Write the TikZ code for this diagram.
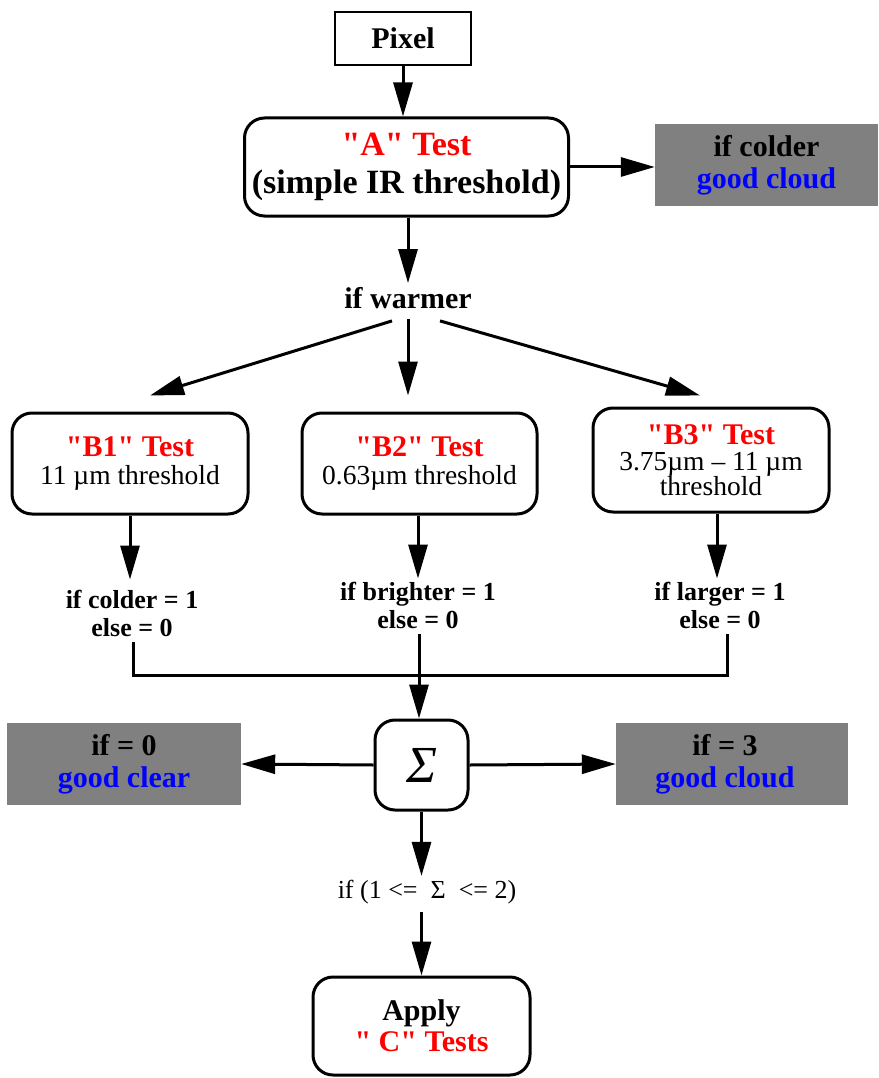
\documentclass[tikz,border=0pt]{standalone}
\usepackage{fontspec}
\newfontfamily\myserif{Liberation Serif}
\usetikzlibrary{arrows.meta}
\definecolor{boxgray}{RGB}{128,128,128}
\definecolor{tred}{RGB}{255,0,0}
\definecolor{tblue}{RGB}{0,0,255}
\newcommand{\fsA}{\myserif\fontsize{34}{36}\selectfont}
\newcommand{\fsB}{\myserif\fontsize{30}{31}\selectfont}
\newcommand{\fsC}{\myserif\fontsize{27.5}{28}\selectfont}
\newcommand{\fsD}{\myserif\fontsize{26}{27}\selectfont}
\begin{document}
\begin{tikzpicture}[x=1pt,y=-1pt,
  rbox/.style={draw,line width=3pt,rounded corners=20pt,align=center,inner sep=0pt},
  sbox/.style={draw,line width=2.6pt,align=center,inner sep=0pt},
  gbox/.style={fill=boxgray,align=center,inner sep=0pt,font=\fsB\bfseries},
  lbl/.style={align=center,inner sep=0pt},
  arr/.style={line width=3pt,-{Triangle[length=34pt,width=19pt]}},
  ln/.style={line width=3pt}]
\useasboundingbox (0,0) rectangle (878,1078);
% nodes
\node[sbox,minimum width=136pt,minimum height=53pt,font=\fsB\bfseries] (pix) at (403,38.5) {Pixel};
\node[rbox,minimum width=324pt,minimum height=98pt,font=\fsA\bfseries] (A) at (406.5,167)
  {\textcolor{tred}{"A" Test}\\[2pt](simple IR threshold)};
\node[gbox,minimum width=223pt,minimum height=82pt] (g1) at (766.5,165)
  {if colder\\[1pt]\textcolor{tblue}{good cloud}};
\node[lbl,font=\fsB\bfseries] (warm) at (408,298) {if warmer};
\node[rbox,minimum width=236pt,minimum height=101pt] (B1) at (130,463.5)
  {{\fsB\bfseries\textcolor{tred}{"B1" Test}}\\[7pt]{\fsC 11 µm threshold}};
\node[rbox,minimum width=235pt,minimum height=101pt] (B2) at (419.5,463.5)
  {{\fsB\bfseries\textcolor{tred}{"B2" Test}}\\[7pt]{\fsC 0.63µm threshold}};
\node[rbox,minimum width=236pt,minimum height=104pt] (B3) at (711,460)
  {{\fsB\bfseries\textcolor{tred}{"B3" Test}}\\[7pt]{\fsC 3.75µm – 11 µm}\\[-1pt]{\fsC threshold}};
\node[lbl,font=\fsD\bfseries] (L1) at (132,613) {if colder = 1\\[1pt]else = 0};
\node[lbl,font=\fsD\bfseries] (L2) at (418,605) {if brighter = 1\\[1pt]else = 0};
\node[lbl,font=\fsD\bfseries] (L3) at (720,605) {if larger = 1\\[1pt]else = 0};
\node[rbox,minimum width=93pt,minimum height=90pt,font=\myserif\fontsize{52}{54}\selectfont] (S) at (421.5,765) {\textit{Σ}};
\node[gbox,minimum width=234pt,minimum height=82pt] (gL) at (124,764)
  {if = 0\\[1pt]\textcolor{tblue}{good clear}};
\node[gbox,minimum width=232pt,minimum height=82pt] (gR) at (732,764) {};
\node[lbl,font=\fsB\bfseries] (gRt) at (725,764)
  {if = 3\\[1pt]\textcolor{tblue}{good cloud}};
\node[lbl,font=\fsD] (SL) at (427,892) {if (1 <=\ \ Σ\ \ <= 2)};
\node[rbox,minimum width=217pt,minimum height=98pt,font=\fsB\bfseries] (C) at (421.5,1026)
  {Apply\\[0pt]\textcolor{tred}{" C" Tests}};
% coordinates
\coordinate (j1) at (133,675);
\coordinate (j2) at (419,675);
\coordinate (j3) at (727,675);
% connectors
\draw[arr] (pix.south) -- (pix.south |- A.north);
\draw[arr] (A.east) -- (A.east -| g1.west);
\draw[arr] (A.south -| warm) -- ([yshift=4pt]warm.north);
\draw[arr] ([xshift=-16pt,yshift=-12pt]warm.south) -- ([xshift=20pt,yshift=16pt]B1.north);
\draw[arr] ([yshift=-10pt]warm.south) -- ([yshift=16pt]warm.south |- B2.north);
\draw[arr] ([xshift=32pt,yshift=-12pt]warm.south) -- ([xshift=-11pt,yshift=11pt]B3.north);
\draw[arr] (B1.south) -- ([yshift=10pt]B1.south |- L1.north);
\draw[arr] (B2.south -| L2) -- ([yshift=3pt]L2.north);
\draw[arr] ([xshift=6pt]B3.south) -- ([xshift=6pt,yshift=3pt]B3.south |- L3.north);
\draw[ln] ([yshift=-6pt]L1.south -| j1) -- (j1) -- (j3) -- ([yshift=-6pt]L3.south -| j3);
\draw[ln] ([yshift=-6pt]L2.south -| j2) -- (j2);
\draw[arr] (j2) -- (S.north -| j2);
\draw[arr] (S.west) -- (gL.east);
\draw[arr] (S.east) -- (gR.west);
\draw[arr] (S.south) -- ([yshift=4pt]SL.north -| S.south);
\draw[arr] ([yshift=-8pt]SL.south -| S.south) -- (C.north);
\end{tikzpicture}
\end{document}
